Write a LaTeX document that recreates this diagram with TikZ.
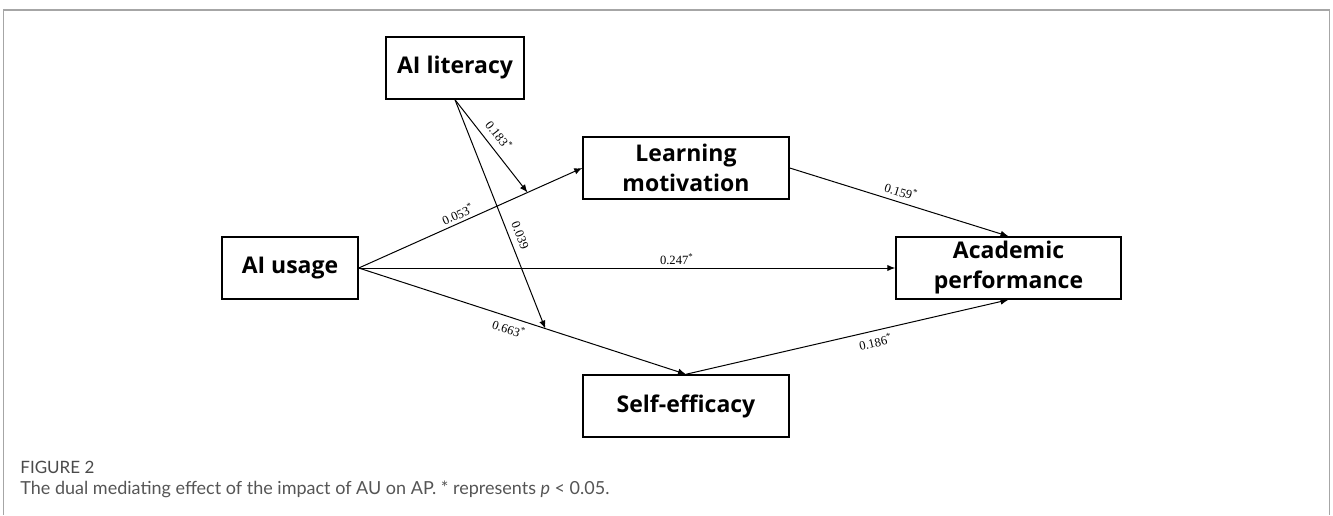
\documentclass[tikz,border=0pt]{standalone}
\usepackage{fontspec}
\setmainfont{Liberation Serif}
\newfontfamily\boxfont{Open Sans}
\newfontfamily\capfont{Lato}
\usetikzlibrary{arrows.meta,calc}
\definecolor{framegray}{HTML}{A6A6A6}
\definecolor{capgray}{HTML}{555555}
\definecolor{figgray}{HTML}{4A4A4A}
\tikzset{
  varbox/.style={draw=black,line width=0.75pt,minimum height=31pt,inner sep=0pt,
    align=center,font=\boxfont\bfseries\fontsize{11.5}{15}\selectfont},
  arrowpath/.style={line width=0.5pt,-{Latex[length=4pt,width=3.2pt]}},
  coef/.style={font=\fontsize{6.3}{7}\selectfont,sloped,inner sep=1.5pt},
}
\begin{document}
\begin{tikzpicture}[x=0.5pt,y=-0.5pt]
\useasboundingbox (0,0) rectangle (1333,515);
% frame
\draw[framegray,line width=1pt] (3,10) -- (1330,10);
\draw[framegray,line width=0.5pt] (3.5,10) -- (3.5,515);
\draw[framegray,line width=0.5pt] (1329.5,10) -- (1329.5,515);
% nodes
\node[varbox,minimum width=69pt] (AL) at (455,68) {AI literacy};
\node[varbox,minimum width=103pt] (LM) at (686,168) {Learning\\motivation};
\node[varbox,minimum width=68pt] (AU) at (290,268) {AI usage};
\node[varbox,minimum width=112.5pt] (AP) at (1008.5,268) {Academic\\performance};
\node[varbox,minimum width=103pt] (SE) at (686,406) {Self-efficacy};
\coordinate (mLM) at ($(AU.east)!0.755!(LM.west)$);
\coordinate (mSE) at ($(AU.east)!0.57!(SE.north)$);
% paths
\draw[arrowpath] (AU.east) -- node[coef,pos=0.46,above]{0.053\textsuperscript{*}} (LM.west);
\draw[arrowpath] (AU.east) -- node[coef,pos=0.593,above]{0.247\textsuperscript{*}} (AP.west);
\draw[arrowpath] (AU.east) -- node[coef,pos=0.47,below,inner sep=2.5pt]{0.663\textsuperscript{*}} (SE.north);
\draw[arrowpath] (LM.east) -- node[coef,pos=0.495,above,inner sep=2.5pt]{0.159\textsuperscript{*}} (AP.north);
\draw[arrowpath] (SE.north) -- node[coef,pos=0.58,below,inner sep=2.5pt]{0.186\textsuperscript{*}} (AP.south);
\draw[arrowpath] (AL.south) -- node[coef,pos=0.47,above,inner sep=3.5pt]{0.183\textsuperscript{*}} (mLM);
\draw[arrowpath] (AL.south) -- node[coef,pos=0.61,above,inner sep=3pt]{0.039} (mSE);
% caption
\node[anchor=west,inner sep=0pt,text=figgray,font=\capfont\fontsize{8.5}{10}\selectfont] (fig) at (20,467) {FIGURE 2};
\node[anchor=west,inner sep=0pt,text=capgray,font=\capfont\fontsize{9}{11}\selectfont] (cap) at (20,489) {The dual mediating effect of the impact of AU on AP. * represents \textit{p} < 0.05.};
\end{tikzpicture}
\end{document}
